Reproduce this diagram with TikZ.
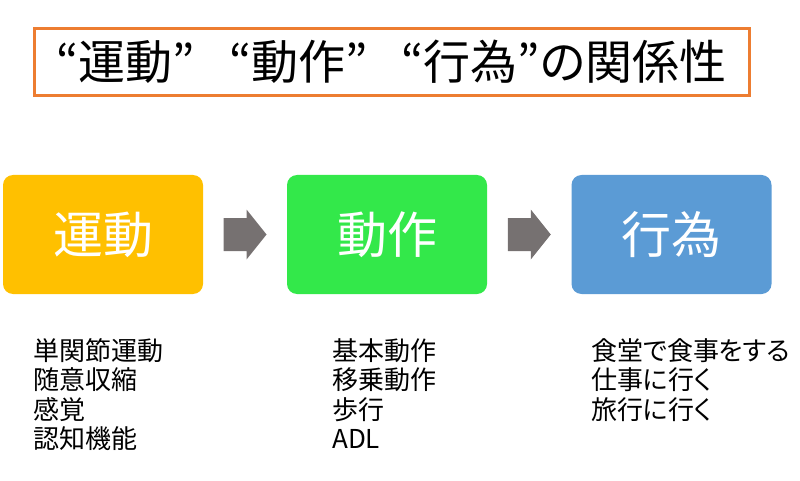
\documentclass[tikz,border=0pt]{standalone}
\usepackage{fontspec}
\setmainfont[RawFeature=+palt]{Noto Sans CJK JP}
\usepackage{tikz}
\usetikzlibrary{calc}
\usetikzlibrary{positioning}

\definecolor{titleorange}{HTML}{ED7D31}
\definecolor{boxyellow}{HTML}{FFC000}
\definecolor{boxgreen}{HTML}{33E84A}
\definecolor{boxblue}{HTML}{5B9BD5}
\definecolor{arrowgray}{HTML}{767171}

\begin{document}
\begin{tikzpicture}[
		x=1pt, y=-1pt,
		box/.style={rectangle,rounded corners=10pt,minimum width=200pt,minimum height=119pt,
			text=white,font=\fontsize{50}{54}\selectfont},
		list/.style={anchor=north west,align=left,inner sep=0pt,
			font=\fontsize{26}{29.5}\selectfont}
		]
		\useasboundingbox (0,0) rectangle (800,481);
		\node[draw=titleorange,line width=3pt,minimum width=715pt,minimum height=67pt,
			font=\fontsize{47}{50}\selectfont] (title) at (391.5,62)
			{“運動”\hspace{34pt}“動作”\hspace{34pt}“行為”の関係性};
		% the three stages
		\node[box,fill=boxyellow] (undou) at (103,234.5) {運動};
		\node[box,fill=boxgreen] (dousa) at (387,234.5) {動作};
		\node[box,fill=boxblue] (koui) at (671.5,234.5) {行為};
		\foreach \a/\b in {undou/dousa,dousa/koui} {
			\coordinate (m) at ($(\a.east)!0.5!(\b.west)$);
			\fill[arrowgray] ($(m)+(-21.5,-16.5)$) -- ($(m)+(1.5,-16.5)$) -- ($(m)+(1.5,-25)$)
				-- ($(m)+(21.5,0)$) -- ($(m)+(1.5,25)$) -- ($(m)+(1.5,16.5)$) -- ($(m)+(-21.5,16.5)$) -- cycle;
		}
		% examples
		\node[list] (undoulist) at (33,338) {単関節運動\\随意収縮\\感覚\\認知機能};
		\node[list] (dousalist) at (332,338) {基本動作\\移乗動作\\歩行\\ADL};
		\node[list] (kouilist) at (591,338) {食堂で食事をする\\仕事に行く\\旅行に行く};
	\end{tikzpicture}
\end{document}
